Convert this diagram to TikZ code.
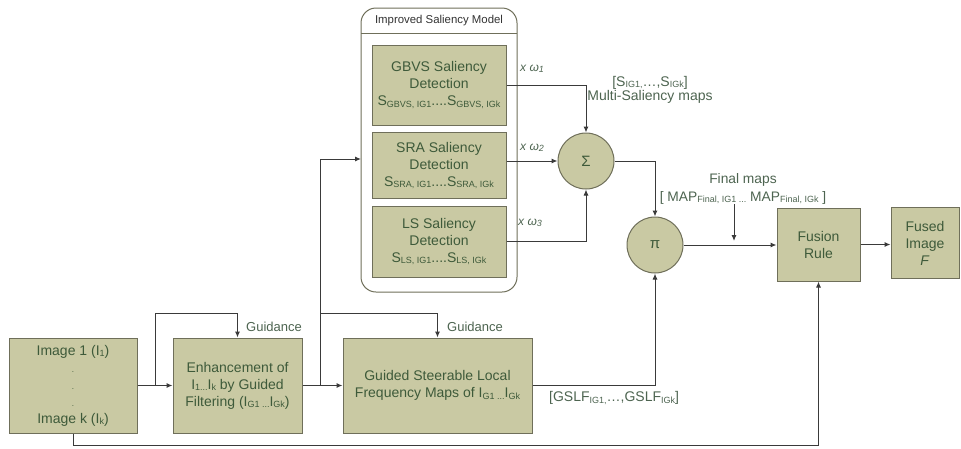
\documentclass[tikz,border=0pt]{standalone}
\usepackage{fontspec}
\setmainfont{Liberation Sans}
\usetikzlibrary{arrows.meta,calc}
\definecolor{boxfill}{HTML}{C9C9A3}
\definecolor{boxline}{HTML}{6F6F5A}
\definecolor{boxtext}{HTML}{3E5A3A}
\definecolor{labtext}{HTML}{4D6450}
\definecolor{linecol}{HTML}{3A3A3A}
\newcommand{\lsub}[1]{\raisebox{-1.5pt}{\fontsize{9}{10}\selectfont #1}}
\tikzset{
  blk/.style={draw=boxline, line width=1pt, fill=boxfill, text=boxtext, align=center,
    inner sep=0pt, font=\fontsize{14}{17}\selectfont},
  circ/.style={circle, draw=boxline, line width=1pt, fill=boxfill, text=boxtext,
    minimum size=56pt, inner sep=0pt, font=\fontsize{15}{17}\selectfont},
  conn/.style={draw=linecol, line width=1pt},
  arr/.style={conn, -{Latex[length=6pt,width=5pt]}},
  lab/.style={text=labtext, inner sep=0pt, font=\fontsize{13.6}{14}\selectfont},
  wlab/.style={text=labtext, inner sep=0pt, font=\fontsize{12}{14}\selectfont\itshape}
}
\begin{document}
\begin{tikzpicture}[x=1pt,y=-1pt]
\useasboundingbox (0,0) rectangle (961,448);
% container
\node[draw=boxline, line width=1pt, rounded corners=15pt, fill=white,
  minimum width=156pt, minimum height=284pt, inner sep=0pt] (cont) at (439,150) {};
\coordinate (hl) at (361,33);
\coordinate (hr) at (517,33);
\draw[draw=boxline, line width=1pt] (hl) -- (hr);
\node[inner sep=0pt, text=black!80, font=\fontsize{11.4}{13}\selectfont] (head) at (439,20.5) {Improved Saliency Model};
% saliency blocks
\node[blk, minimum width=134pt, minimum height=80pt] (gbvs) at (439,85)
  {GBVS Saliency\\Detection\\S\lsub{GBVS, IG1}....S\lsub{GBVS, IGk}};
\node[blk, minimum width=134pt, minimum height=66pt] (sra) at (439,165.5)
  {SRA Saliency\\Detection\\S\lsub{SRA, IG1}....S\lsub{SRA, IGk}};
\node[blk, minimum width=134pt, minimum height=71pt] (ls) at (439,241.5)
  {LS Saliency\\Detection\\S\lsub{LS, IG1}....S\lsub{LS, IGk}};
% circles
\node[circ] (sig) at (586,161) {Σ};
\node[circ] (pi) at (655,245) {π};
% bottom blocks
\node[blk, minimum width=128pt, minimum height=95pt] (img) at (73,385.5)
  {Image 1 (I\lsub{1})\\{\fontsize{8}{17}\selectfont .}\\{\fontsize{8}{17}\selectfont .}\\{\fontsize{8}{17}\selectfont .}\\Image k (I\lsub{k})};
\node[blk, minimum width=129pt, minimum height=95pt] (enh) at (237.5,385.5)
  {Enhancement of\\I\lsub{1...}I\lsub{k} by Guided\\Filtering (I\lsub{G1 ...}I\lsub{Gk})};
\node[blk, minimum width=189pt, minimum height=95pt] (gslf) at (437.5,385.5)
  {Guided Steerable Local\\Frequency Maps of I\lsub{G1 ...}I\lsub{Gk}};
% right blocks
\node[blk, minimum width=83pt, minimum height=73pt] (fus) at (818.5,244.5) {Fusion\\Rule};
\node[blk, minimum width=68pt, minimum height=71pt] (out) at (925,243) {Fused\\Image\\\textit{F}};
% connectors
\coordinate (b1) at (155,385.5);
\coordinate (b2) at (320,385.5);
\coordinate (cin) at (361,159);
\draw[arr] (img.east) -- (enh.west);
\draw[arr] (b1) |- ([yshift=24pt]enh.north) -- (enh.north);
\draw[arr] (enh.east) -- (gslf.west);
\draw[arr] (b2) |- ([yshift=24pt]gslf.north) -- (gslf.north);
\draw[arr] (b2) |- (cin);
\draw[arr] (gbvs.east) -| (sig.north);
\draw[arr] (sra.east |- sig.west) -- (sig.west);
\draw[arr] (ls.east) -| (sig.south);
\draw[arr] (sig.east) -| (pi.north);
\draw[arr] (gslf.east) -| (pi.south);
\draw[arr] (pi.east) -- (fus.west |- pi.east);
\draw[arr] (fus.east) -- (out.west |- fus.east);
\draw[arr] (img.south) -- ++(0,12) -| (fus.south);
% labels
\node[lab, anchor=west, font=\fontsize{13}{14}\selectfont] (gd1) at (246,327) {Guidance};
\node[lab, anchor=west, font=\fontsize{13}{14}\selectfont] (gd2) at (447,327) {Guidance};
\node[wlab, anchor=west] (w1) at (520,69) {x ω\lsub{1}};
\node[wlab, anchor=west] (w2) at (520,148) {x ω\lsub{2}};
\node[wlab, anchor=west] (w3) at (518,223) {x ω\lsub{3}};
\node[lab, align=center, font=\fontsize{14}{14.5}\selectfont] (msm) at (650,90)
  {[S\lsub{IG1,}\dots,S\lsub{IGk}]\\Multi-Saliency maps};
\node[lab, anchor=west, font=\fontsize{14}{14}\selectfont] (gl) at (549,398) {[GSLF\lsub{IG1,}\dots,GSLF\lsub{IGk}]};
\node[lab, align=center, font=\fontsize{13.8}{17.5}\selectfont] (fm) at (743,189)
  {Final maps\\{[} MAP\lsub{Final, IG1 ...} MAP\lsub{Final, IGk} ]};
\coordinate (fmend) at (734,241);
\draw[arr] (fm.south -| fmend) -- (fmend);
\end{tikzpicture}
\end{document}
